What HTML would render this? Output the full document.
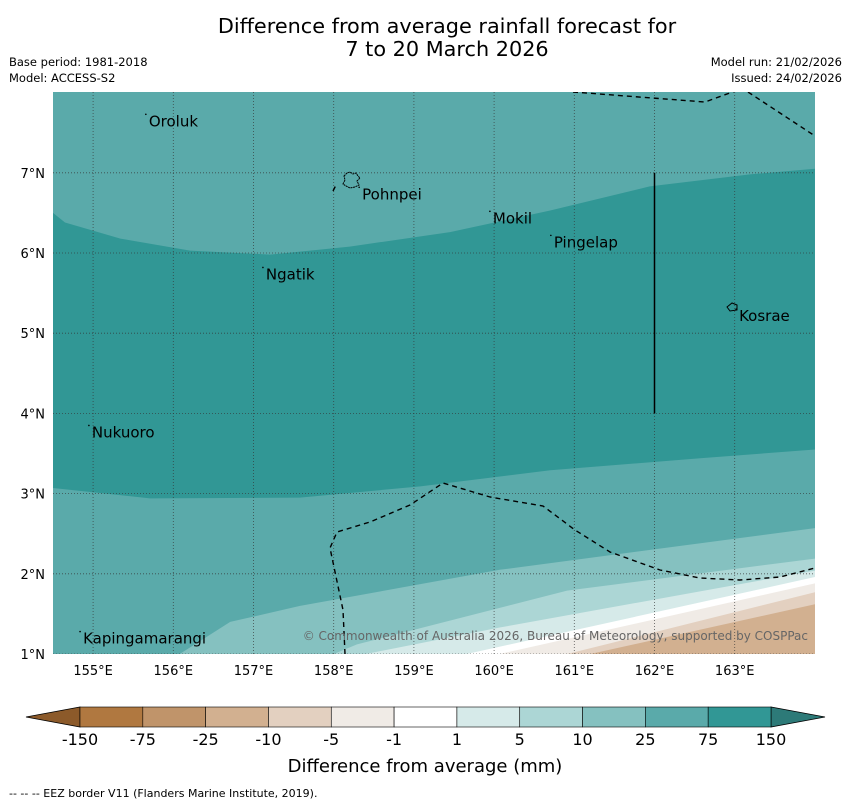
<!DOCTYPE html>
<html><head><meta charset="utf-8"><style>
body{margin:0;background:#fff;width:850px;height:804px;overflow:hidden;font-family:"Liberation Sans","DejaVu Sans",sans-serif}
</style></head><body>
<svg id="chart" width="850" height="804" xmlns="http://www.w3.org/2000/svg" font-family="DejaVu Sans, Liberation Sans, sans-serif">
<text x="447" y="33" font-size="20.8" text-anchor="middle">Difference from average rainfall forecast for</text>
<text x="447" y="56" font-size="20.8" text-anchor="middle">7 to 20 March 2026</text>
<text x="9" y="66" font-size="11.5">Base period: 1981-2018</text>
<text x="9" y="82" font-size="11.5">Model: ACCESS-S2</text>
<text x="842" y="66" font-size="11.5" text-anchor="end">Model run: 21/02/2026</text>
<text x="842" y="82" font-size="11.5" text-anchor="end">Issued: 24/02/2026</text>
<defs><clipPath id="mapclip"><rect x="53" y="92" width="762" height="562"/></clipPath></defs>
<g id="map" clip-path="url(#mapclip)"></g>
<g id="overlay"></g>
<g id="cbar"></g>
<text x="425" y="772" font-size="18" text-anchor="middle">Difference from average (mm)</text>
<text x="9" y="797" font-size="11">--  --  -- EEZ border V11 (Flanders Marine Institute, 2019).</text>
</svg>
<script>
// ---- data ----
const lonTicks = [155,156,157,158,159,160,161,162,163];
const latTicks = [1,2,3,4,5,6,7];
const levelLabels = ["-150","-75","-25","-10","-5","-1","1","5","10","25","75","150"];
const levelColors = ["#b07840","#c0946a","#d2b090","#e3d0c0","#f0ebe6","#ffffff","#d6eae9","#acd6d5","#85c1c0","#5aaaaa","#319795"];
const darkBandTop = [[154.5,6.5],[154.65,6.38],[155.34,6.18],[156.21,6.03],[157.21,5.98],[158.2,6.08],[159.45,6.26],[160.7,6.53],[161.94,6.83],[163.19,6.98],[164,7.05]];
const darkBandBottom = [[154.5,3.07],[155.71,2.94],[157.58,2.95],[159.08,3.09],[160.7,3.29],[162.57,3.44],[164,3.55]];
const c10 = [[156.08,1.0],[156.71,1.4],[157.58,1.6],[160.07,2.05],[164,2.57]];
const c5 = [[158.0,1.0],[158.29,1.12],[160.91,1.79],[164,2.19]];
const c1 = [[158.4,1.0],[160.07,1.33],[164,2.04]];
const cm1 = [[159.66,1.0],[164,1.96]];
const cm5 = [[160.07,1.0],[164,1.88]];
const cm10 = [[160.91,1.0],[164,1.77]];
const cm25 = [[161.2,1.0],[164,1.62]];
const places = [["Oroluk",155.67,7.58],["Pohnpei",158.33,6.67],["Mokil",159.96,6.37],["Pingelap",160.72,6.07],["Ngatik",157.13,5.67],["Kosrae",163.03,5.15],["Nukuoro",154.96,3.7],["Kapingamarangi",154.85,1.13]];
// ---- scales ----
const X = lon => 53 + (lon-154.5)*80.2;
const Y = lat => 654 - (lat-1)*80.2;
const NS="http://www.w3.org/2000/svg";
function mk(tag,attrs,parent){const e=document.createElementNS(NS,tag);for(const k in attrs)e.setAttribute(k,attrs[k]);parent.appendChild(e);return e;}
const map=document.getElementById('map'), ov=document.getElementById('overlay'), cb=document.getElementById('cbar');
const pts = a => a.map(p=>X(p[0]).toFixed(1)+','+Y(p[1]).toFixed(1));
let bg=mk('rect',{x:53,y:92,width:762,height:562,fill:levelColors[9]},map);


let db=mk('polygon',{points:pts(darkBandTop).concat(pts(darkBandBottom.slice().reverse())).join(' '),fill:levelColors[10]},map);


const lowBands=[[c10,8,'band-10-25'],[c5,7,'band-5-10'],[c1,6,'band-1-5'],[cm1,5,'band-neutral'],[cm5,4,'band-minus1-minus5'],[cm10,3,'band-minus5-minus10'],[cm25,2,'band-minus10-minus25']];
lowBands.forEach(([c,ci,n])=>{
  const p=pts(c).concat([X(164.2)+','+Y(c[c.length-1][1]),X(164.2)+','+Y(0.5),X(c[0][0])+','+Y(0.5)]);
  const e=mk('polygon',{points:p.join(' '),fill:levelColors[ci]},map);
  
  
});
// gridlines
lonTicks.forEach(l=>{
  const g=mk('line',{x1:X(l),x2:X(l),y1:92,y2:654,stroke:'#333','stroke-width':0.8,'stroke-dasharray':'1,2',opacity:0.8},map);
  
  
  const t=mk('text',{x:X(l),y:675,'font-size':13,'text-anchor':'middle'},ov);t.textContent=l+'°E';
  
  
});
latTicks.forEach(l=>{
  const g=mk('line',{x1:53,x2:815,y1:Y(l),y2:Y(l),stroke:'#333','stroke-width':0.8,'stroke-dasharray':'1,2',opacity:0.8},map);
  
  
  const t=mk('text',{x:45,y:Y(l)+5,'font-size':13,'text-anchor':'end'},ov);t.textContent=l+'°N';
  
  
});
// EEZ borders
[["M573,92 L705,102 L738,90","eez-north"],["M748,92 L815,136","eez-northeast"],["M345,654 L343,610 L330,548 L337,532 L370,522 L410,505 L443,483 L490,497 L543,506 L575,530 L610,552 L660,570 L700,578 L740,580 L780,577 L815,568","eez-south"],["M333,191 L336,185","eez-fragment"]].forEach(([d,n])=>{
  const e=mk('path',{d:d,fill:'none',stroke:'#000','stroke-width':1.4,'stroke-dasharray':'5,4'},map);
  
  
});
let vl=mk('line',{x1:X(162),x2:X(162),y1:Y(7),y2:Y(4),stroke:'#000','stroke-width':1.5},map);


let pi=mk('path',{d:'M344,176 L347,173 L350,172 L353,174 L356,173 L358,176 L360,178 L357,181 L359,185 L355,187 L350,188 L346,186 L343,184 L345,180 Z',fill:'none',stroke:'#000','stroke-width':1,'stroke-dasharray':'2,0.6'},map);


let ki=mk('path',{d:'M727,307 L732,303 L737,305 L737,310 L730,311 Z',fill:'none',stroke:'#000','stroke-width':1},map);


places.forEach(([n,lo,la])=>{
  const t=mk('text',{x:X(lo)+2,y:Y(la),'font-size':15},map);t.textContent=n;
  
  
  const d=mk('circle',{cx:X(lo)-1,cy:Y(la)-12,r:0.8,fill:'#000'},map);
  
  
});
let cr=mk('text',{x:808,y:640,'font-size':12,'text-anchor':'end',fill:'#666'},map);cr.textContent='© Commonwealth of Australia 2026, Bureau of Meteorology, supported by COSPPac';


// colorbar
const bx0=80,bx1=771,by=707,bh=20,bw=(bx1-bx0)/levelColors.length;
let lt=mk('polygon',{points:`26,${by+bh/2} ${bx0},${by} ${bx0},${by+bh}`,fill:'#8c5a2a',stroke:'#000','stroke-width':0.8},cb);


let rt=mk('polygon',{points:`825,${by+bh/2} ${bx1},${by} ${bx1},${by+bh}`,fill:'#2d7a78',stroke:'#000','stroke-width':0.8},cb);


levelColors.forEach((c,i)=>{
  const r=mk('rect',{x:bx0+i*bw,y:by,width:bw,height:bh,fill:c,stroke:'#000','stroke-width':0.6},cb);
  
  
});
levelLabels.forEach((l,i)=>{
  const t=mk('text',{x:bx0+i*bw,y:745,'font-size':16,'text-anchor':'middle'},cb);t.textContent=l;
  
  
});
</script>
</body></html>
